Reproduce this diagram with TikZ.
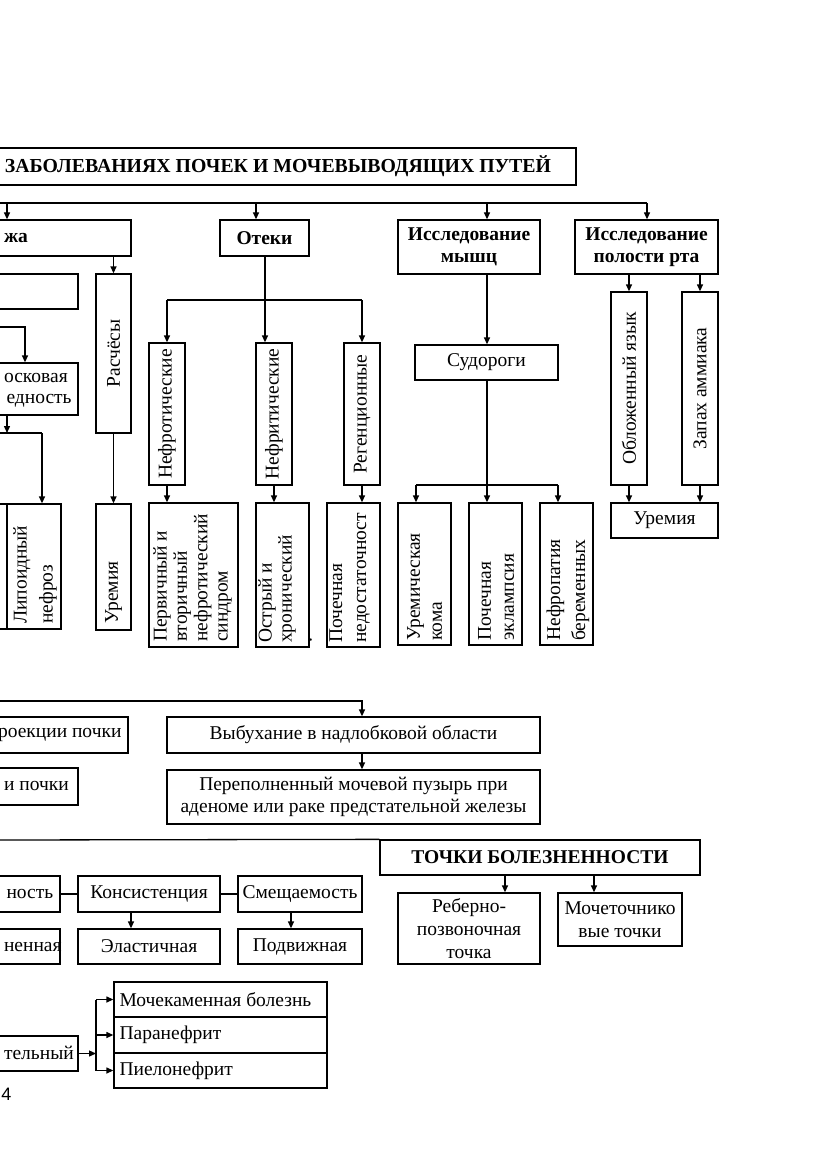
\documentclass[tikz,border=0pt]{standalone}
\usepackage{fontspec}
\setmainfont{Liberation Serif}
\newfontfamily\tnr{Liberation Serif}
\newfontfamily\pagefont{Liberation Sans}
\usetikzlibrary{arrows.meta,calc}
\newcommand\myfs{\tnr\fontsize{19.5}{22.5}\selectfont}
\begin{document}
\begin{tikzpicture}[x=1pt,y=-1pt,
  every node/.append style={font=\myfs},
  box/.style={draw, line width=1.3pt, inner sep=0pt},
  rc/.style args={#1/#2/#3/#4}{box, minimum width={(#3)-(#1)}, minimum height={(#4)-(#2)},
      at={({((#1)+(#3))/2},{((#2)+(#4))/2})}},
  bold/.style={font=\myfs\bfseries},
  rot/.style={rotate=90, inner sep=0pt},
  ln/.style={line width=1.3pt},
  arr/.style={line width=1.3pt, -{Triangle[length=7pt,width=6pt]}}]
\fill[white] (0,0) rectangle (831,1174);
\useasboundingbox (0,0) rectangle (831,1174);
\clip (0,0) rectangle (831,1174);

% ---------- title and top bus
\node[rc=-10/148/576/185] (title) {};
\node[bold, font=\tnr\bfseries\fontsize{19.8}{22}\selectfont] (titletext) at (278,166.5) {ЗАБОЛЕВАНИЯХ ПОЧЕК И МОЧЕВЫВОДЯЩИХ ПУТЕЙ};
\coordinate (busL) at (-5,203);
\coordinate (b1) at (7,203);
\coordinate (b2) at (256,203);
\coordinate (b3) at (487,203);
\coordinate (b4) at (647,203);
\draw[ln] (busL) -- (b4);

% ---------- second row
\node[rc=-10/220/131/256] (kozha) {};
\node[bold, anchor=west] (kozhatext) at (0.5,238) {жа};
\node[rc=220/220/309/256, bold] (oteki) {Отеки};
\node[rc=398/220/540/274, bold, align=center] (myshc) {Исследование\\мышц};
\node[rc=575/220/718/274, bold, align=center] (rta) {Исследование\\полости рта};
\draw[arr] (b1) -- (b1 |- kozha.north);
\draw[arr] (b2) -- (b2 |- oteki.north);
\draw[arr] (b3) -- (b3 |- myshc.north);
\draw[arr] (b4) -- (b4 |- rta.north);

% ---------- left column (skin)
\node[rc=96/274/131/433] (rasch) {};
\node[rot] (raschtext) at (rasch.center) {Расчёсы};
\node[rc=96/504/131/630] (urem1) {};
\node[rot, anchor=west] (urem1text) at (113.5,624) {Уремия};
\draw[arr] (kozha.south -| rasch.north) -- (rasch.north);
\draw[arr] (rasch.south) -- (urem1.north);

\node[rc=-10/274/78/309] (leftA) {};
\coordinate (c1) at (-5,327);
\coordinate (c1b) at (25,327);
\node[rc=-10/363/78/415] (vosk) {};
\node[anchor=west] (vosk1) at (0.5,378) {осковая};
\node[anchor=west] (vosk2) at (3,401) {едность};
\draw[arr] (c1) -- (c1b) -- (c1b |- vosk.north);

\coordinate (c2) at (7,433);
\coordinate (c2L) at (-5,433);
\coordinate (c2R) at (42,433);
\node[rc=7/504/61/629] (lip) {};
\node[rc=-10/504/7/629] (lip0) {};
\node[rot, anchor=west, align=left, font=\tnr\fontsize{19.5}{26}\selectfont] (liptext) at (35,624) {Липоидный\\нефроз};
\draw[arr] (vosk.south -| c2) -- (c2);
\draw[ln] (c2L) -- (c2R);
\draw[arr] (c2R) -- (c2R |- lip.north);

% ---------- oedema
\coordinate (o1) at (167,300);
\coordinate (o2) at (265,300);
\coordinate (o3) at (362,300);
\node[rc=149/343/185/485] (nefrot) {};
\node[rot] (nefrottext) at (nefrot.center) {Нефротические};
\node[rc=256/343/292/485] (nefrit) {};
\node[rot] (nefrittext) at (nefrit.center) {Нефритические};
\node[rc=344/343/380/485] (reten) {};
\node[rot] (retentext) at (reten.center) {Регенционные};
\draw[ln] (oteki.south -| o2) -- (o2);
\draw[ln] (o1) -- (o3);
\draw[arr] (o1) -- (nefrot.north);
\draw[arr] (o2) -- (o2 |- nefrit.north);
\draw[arr] (o3) -- (reten.north);

\node[rc=149/503/238/647] (perv) {};
\node[rot, anchor=west, align=left, font=\tnr\fontsize{19.5}{20.3}\selectfont] (pervtext) at (192.5,642) {Первичный и\\вторичный\\нефротический\\синдром};
\node[rc=256/503/309/647] (ostr) {};
\node[rot, anchor=west, align=left, font=\tnr\fontsize{19.5}{20}\selectfont] (ostrtext) at (285,643) {Острый и\\хронический\\.};
\node[rc=327/503/380/647] (pochn) {};
\node[rot, anchor=west, align=left, font=\tnr\fontsize{19.5}{24}\selectfont] (pochntext) at (349.5,643) {Почечная\\недостаточност};
\draw[arr] (nefrot.south) -- (nefrot.south |- perv.north);
\draw[arr] (nefrit.south) -- (nefrit.south |- ostr.north);
\draw[arr] (reten.south) -- (reten.south |- pochn.north);

% ---------- muscles
\node[rc=415/345/558/380] (sud) {Судороги};
\coordinate (s1) at (416,485);
\coordinate (s2) at (487,485);
\coordinate (s3) at (558,485);
\draw[arr] (myshc.south -| s2) -- (s2 |- sud.north);
\draw[ln] (sud.south -| s2) -- (s2);
\draw[ln] (s1) -- (s3);
\node[rc=398/503/451/645] (urkoma) {};
\node[rot, anchor=west, align=left, font=\tnr\fontsize{19.5}{22}\selectfont] (urkomatext) at (424.5,641) {Уремическая\\кома};
\node[rc=469/503/522/645] (ekl) {};
\node[rot, anchor=west, align=left, font=\tnr\fontsize{19.5}{23}\selectfont] (ekltext) at (496,641) {Почечная\\эклампсия};
\node[rc=540/503/593/645] (nefpat) {};
\node[rot, anchor=west, align=left, font=\tnr\fontsize{19.5}{25}\selectfont] (nefpattext) at (568,641) {Нефропатия\\беременных};
\draw[arr] (s1) -- (s1 |- urkoma.north);
\draw[arr] (s2) -- (s2 |- ekl.north);
\draw[arr] (s3) -- (s3 |- nefpat.north);

% ---------- mouth
\node[rc=611/292/647/485] (oblozh) {};
\node[rot] (oblozhtext) at (oblozh.center) {Обложенный язык};
\node[rc=682/292/718/485] (zapah) {};
\node[rot] (zapahtext) at (zapah.center) {Запах аммиака};
\node[rc=611/503/718/538] (urem2) {Уремия};
\draw[arr] (rta.south -| oblozh.north) -- (oblozh.north);
\draw[arr] (rta.south -| zapah.north) -- (zapah.north);
\draw[arr] (oblozh.south) -- (oblozh.south |- urem2.north);
\draw[arr] (zapah.south) -- (zapah.south |- urem2.north);

% ---------- inspection of the region
\coordinate (v0) at (-5,701);
\coordinate (v1) at (362,701);
\node[rc=-10/717/128/753] (proek) {};
\node[anchor=east] (proektext) at (125,735) {роекции почки};
\node[rc=167/717/540/753] (vyb) {Выбухание в надлобковой области};
\node[rc=-10/768/78/805] (pochki) {};
\node[anchor=west] (pochkitext) at (0.5,786) {и почки};
\node[rc=167/770/540/824, align=center] (perep) {Переполненный мочевой пузырь при\\аденоме или раке предстательной железы};
\draw[arr] (v0) -- (v1) -- (v1 |- vyb.north);
\draw[arr] (vyb.south -| v1) -- (v1 |- perep.north);

% ---------- tenderness points
\coordinate (t0) at (-5,840);
\node[rc=380/840/700/875, bold] (tochki) {ТОЧКИ БОЛЕЗНЕННОСТИ};
\draw[ln] (t0) -- (tochki.north west);
\coordinate (ta) at (505,0);
\coordinate (tb) at (594,0);
\node[rc=398/893/540/964, align=center, font=\tnr\fontsize{19.5}{23}\selectfont] (reb) {Реберно-\\позвоночная\\точка};
\node[rc=558/893/682/946, align=center] (mochet) {Мочеточнико\\вые точки};
\draw[arr] (tochki.south -| ta) -- (reb.north -| ta);
\draw[arr] (tochki.south -| tb) -- (mochet.north -| tb);

% ---------- kidney palpation
\node[rc=-10/876/60/912] (nost) {};
\node[anchor=west] (nosttext) at (3,894) {ность};
\node[rc=78/876/220/912] (kons) {Консистенция};
\node[rc=238/876/362/912] (smesh) {Смещаемость};
\draw[ln] (nost.east) -- (kons.west);
\draw[ln] (kons.east) -- (smesh.west);
\node[rc=-10/929/60/964] (nenn) {};
\node[anchor=west] (nenntext) at (0.5,946.5) {ненная};
\node[rc=78/929/220/964] (elast) {Эластичная};
\node[rc=238/929/362/964] (podv) {Подвижная};
\coordinate (kx) at (131,0);
\coordinate (sx) at (291,0);
\draw[arr] (kons.south -| kx) -- (elast.north -| kx);
\draw[arr] (smesh.south -| sx) -- (podv.north -| sx);

% ---------- bottom
\node[rc=-10/1036/78/1071] (teln) {};
\node[anchor=west] (telntext) at (0.5,1053) {тельный};
\node[rc=114/982/327/1017] (mkb) {};
\node[rc=114/1017/327/1053] (paran) {};
\node[rc=114/1053/327/1088] (piel) {};
\node[anchor=west] (mkbtext) at (116,999.5) {Мочекаменная болезнь};
\node[anchor=west] (parantext) at (116,1035) {Паранефрит};
\node[anchor=west] (pieltext) at (116,1070.5) {Пиелонефрит};
\coordinate (jx) at (96,0);
\draw[arr] (teln.east) -- (teln.east -| jx);
\draw[ln] (mkb.west -| jx) -- (piel.west -| jx);
\draw[arr] (mkb.west -| jx) -- (mkb.west);
\draw[arr] (paran.west -| jx) -- (paran.west);
\draw[arr] (piel.west -| jx) -- (piel.west);

\node[font=\pagefont\fontsize{18}{20}\selectfont] (pagenum) at (6.5,1094) {4};
\end{tikzpicture}
\end{document}
